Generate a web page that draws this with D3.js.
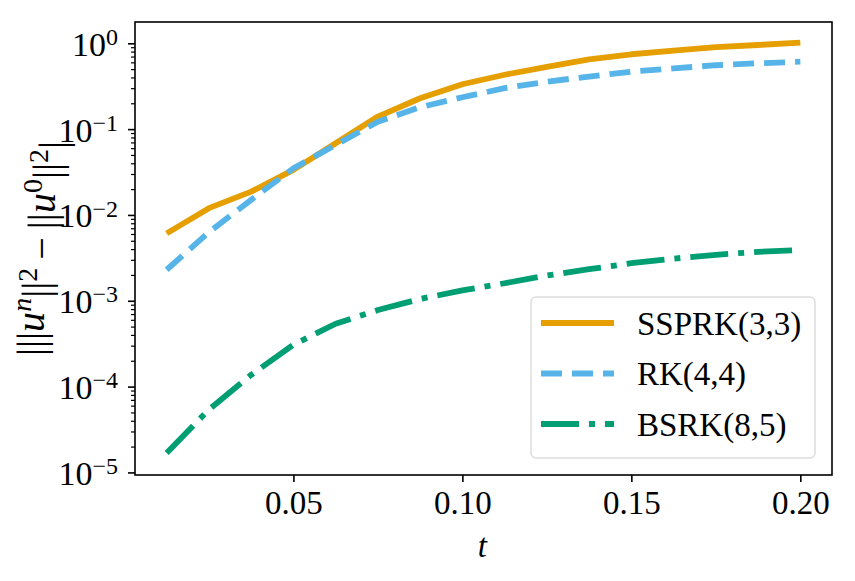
<!DOCTYPE html>
<html>
<head>
<meta charset="utf-8">
<script src="https://cdn.jsdelivr.net/npm/d3@7"></script>
<style>
  body { margin: 0; background: #fff; }
  svg { display: block; }
  svg text { font-family: "Liberation Serif", "DejaVu Serif", serif; }
</style>
</head>
<body>
<div id="chart"></div>
<script>
// time levels
const times = [0.0125, 0.025, 0.0375, 0.05, 0.0625, 0.075, 0.0875, 0.1,
               0.1125, 0.125, 0.1375, 0.15, 0.1625, 0.175, 0.1875, 0.2];

// energy change per scheme
const ssprk33 = [6.1e-3, 1.2e-2, 1.87e-2, 3.35e-2, 6.85e-2, 0.14, 0.229, 0.333,
                 0.43, 0.53, 0.65, 0.745, 0.82, 0.90, 0.955, 1.02];
const rk44 = [2.3e-3, 6.3e-3, 1.5e-2, 3.5e-2, 6.55e-2, 0.122, 0.18, 0.235,
              0.30, 0.357, 0.41, 0.467, 0.51, 0.555, 0.585, 0.61];
const bsrk85 = [1.68e-5, 5.4e-5, 1.37e-4, 3.07e-4, 5.4e-4, 7.8e-4, 1.05e-3, 1.32e-3,
                1.6e-3, 1.97e-3, 2.33e-3, 2.74e-3, 3.1e-3, 3.43e-3, 3.72e-3, 3.89e-3];

const seriesNames = ['SSPRK(3,3)', 'RK(4,4)', 'BSRK(8,5)'];
const xTicks = [0.05, 0.10, 0.15, 0.20];
const yExponents = [0, -1, -2, -3, -4, -5];

const width = 855;
const height = 581;
const margins = { top: 22, bottom: 106, left: 135, right: 23 };
const chartWidth = width - margins.left - margins.right;
const chartHeight = height - margins.top - margins.bottom;

const series = [
    { name: seriesNames[0], values: ssprk33, color: '#E69F00', dash: null },
    { name: seriesNames[1], values: rk44, color: '#56B4E9', dash: '21,10' },
    { name: seriesNames[2], values: bsrk85, color: '#009E73', dash: '38,10,6,10' }
];

const svg = d3.select('#chart')
    .append('svg')
    .attr('width', width)
    .attr('height', height);

const chart = svg.append('g')
    .attr('transform', `translate(${margins.left}, ${margins.top})`);

const xScale = d3.scaleLinear()
    .domain([0.003125, 0.209375])
    .range([0, chartWidth]);

const yScale = d3.scaleLog()
    .domain([Math.pow(10, -5.03), Math.pow(10, 0.248)])
    .range([chartHeight, 0]);

// minor log ticks
const minorTicks = [];
for (let e = -6; e <= 0; e++) {
    for (let m = 2; m <= 9; m++) {
        const v = m * Math.pow(10, e);
        if (v >= yScale.domain()[0] && v <= yScale.domain()[1]) minorTicks.push(v);
    }
}

chart.append('g')
    .classed('y-minor', true)
    .call(d3.axisLeft(yScale).tickValues(minorTicks).tickSize(4).tickFormat(''))
    .call(g => g.select('.domain').remove())
    .selectAll('line')
    .attr('stroke-width', 1.2);

const yAxis = chart.append('g')
    .classed('y-axis', true)
    .call(d3.axisLeft(yScale)
        .tickValues(yExponents.map(e => Math.pow(10, e)))
        .tickSize(7)
        .tickFormat(''))
    .call(g => g.select('.domain').remove());

yAxis.selectAll('line').attr('stroke-width', 1.6);

const yLabels = yAxis.selectAll('.tick')
    .data(yExponents)
    .append('text')
    .attr('x', -17)
    .attr('dy', '0.35em')
    .attr('fill', '#000')
    .style('text-anchor', 'end')
    .style('font-size', '34px');

yLabels.append('tspan').text('10');
yLabels.append('tspan')
    .attr('dy', '-0.45em')
    .style('font-size', '24px')
    .text(e => e === 0 ? '0' : '\u2212' + Math.abs(e));

const xAxis = chart.append('g')
    .classed('x-axis', true)
    .attr('transform', `translate(0, ${chartHeight})`)
    .call(d3.axisBottom(xScale)
        .tickValues(xTicks)
        .tickSize(7)
        .tickPadding(9)
        .tickFormat(d3.format('.2f')))
    .call(g => g.select('.domain').remove());

xAxis.selectAll('line').attr('stroke-width', 1.6);
xAxis.selectAll('text')
    .attr('fill', '#000')
    .style('font-size', '33px');

// lines
const line = d3.line()
    .x((d, i) => xScale(times[i]))
    .y(d => yScale(d));

chart.append('g')
    .selectAll('path')
    .data(series)
    .enter()
    .append('path')
    .attr('d', d => line(d.values))
    .attr('fill', 'none')
    .attr('stroke', d => d.color)
    .attr('stroke-width', 5.8)
    .attr('stroke-linejoin', 'round')
    .attr('stroke-dasharray', d => d.dash);

// frame
chart.append('rect')
    .attr('width', chartWidth)
    .attr('height', chartHeight)
    .attr('fill', 'none')
    .attr('stroke', '#000')
    .attr('stroke-width', 1.6);

// legend
const legend = svg.append('g')
    .attr('transform', 'translate(531, 297)');

legend.append('rect')
    .attr('width', 284)
    .attr('height', 161)
    .attr('rx', 5)
    .attr('fill', '#fff')
    .attr('fill-opacity', 0.8)
    .attr('stroke', '#ddd')
    .attr('stroke-width', 1.5);

const rows = legend.selectAll('.row')
    .data(series)
    .enter()
    .append('g')
    .classed('row', true)
    .attr('transform', (d, i) => `translate(0, ${26 + i * 50.5})`);

rows.append('line')
    .attr('x1', 10)
    .attr('x2', 83)
    .attr('stroke', d => d.color)
    .attr('stroke-width', 5.8)
    .attr('stroke-dasharray', d => d.dash);

rows.append('text')
    .attr('x', 106)
    .attr('dy', '0.35em')
    .style('font-size', '33px')
    .text(d => d.name);

// axis labels
svg.append('text')
    .attr('x', margins.left + xScale(0.1) + 20)
    .attr('y', 557)
    .style('font-size', '33px')
    .style('font-style', 'italic')
    .style('text-anchor', 'middle')
    .text('t');

const yTitle = svg.append('text')
    .attr('transform', `translate(44, ${margins.top + chartHeight / 2}) rotate(-90)`)
    .style('font-size', '33px')
    .style('text-anchor', 'middle');

yTitle.append('tspan').text('|||');
yTitle.append('tspan').style('font-style', 'italic').text('u');
yTitle.append('tspan').attr('dy', '-0.45em').style('font-size', '23px').style('font-style', 'italic').text('n');
yTitle.append('tspan').attr('dy', '0.45em').text('||');
yTitle.append('tspan').attr('dy', '-0.45em').style('font-size', '23px').text('2');
yTitle.append('tspan').attr('dy', '0.45em').text('\u2009\u2212\u2009||');
yTitle.append('tspan').style('font-style', 'italic').text('u');
yTitle.append('tspan').attr('dy', '-0.45em').style('font-size', '23px').text('0');
yTitle.append('tspan').attr('dy', '0.45em').text('||');
yTitle.append('tspan').attr('dy', '-0.45em').style('font-size', '23px').text('2');
yTitle.append('tspan').attr('dy', '0.45em').text('|');

// fit title to the height it takes in the reference (~215px)
const titleLen = yTitle.node().getComputedTextLength();
if (titleLen > 0) {
    const k = 215 / titleLen;
    yTitle.style('font-size', (33 * k) + 'px');
    yTitle.selectAll('tspan').each(function () {
        const fs = this.style.fontSize;
        if (fs) d3.select(this).style('font-size', (parseFloat(fs) * k) + 'px');
    });
}
</script>
</body>
</html>
